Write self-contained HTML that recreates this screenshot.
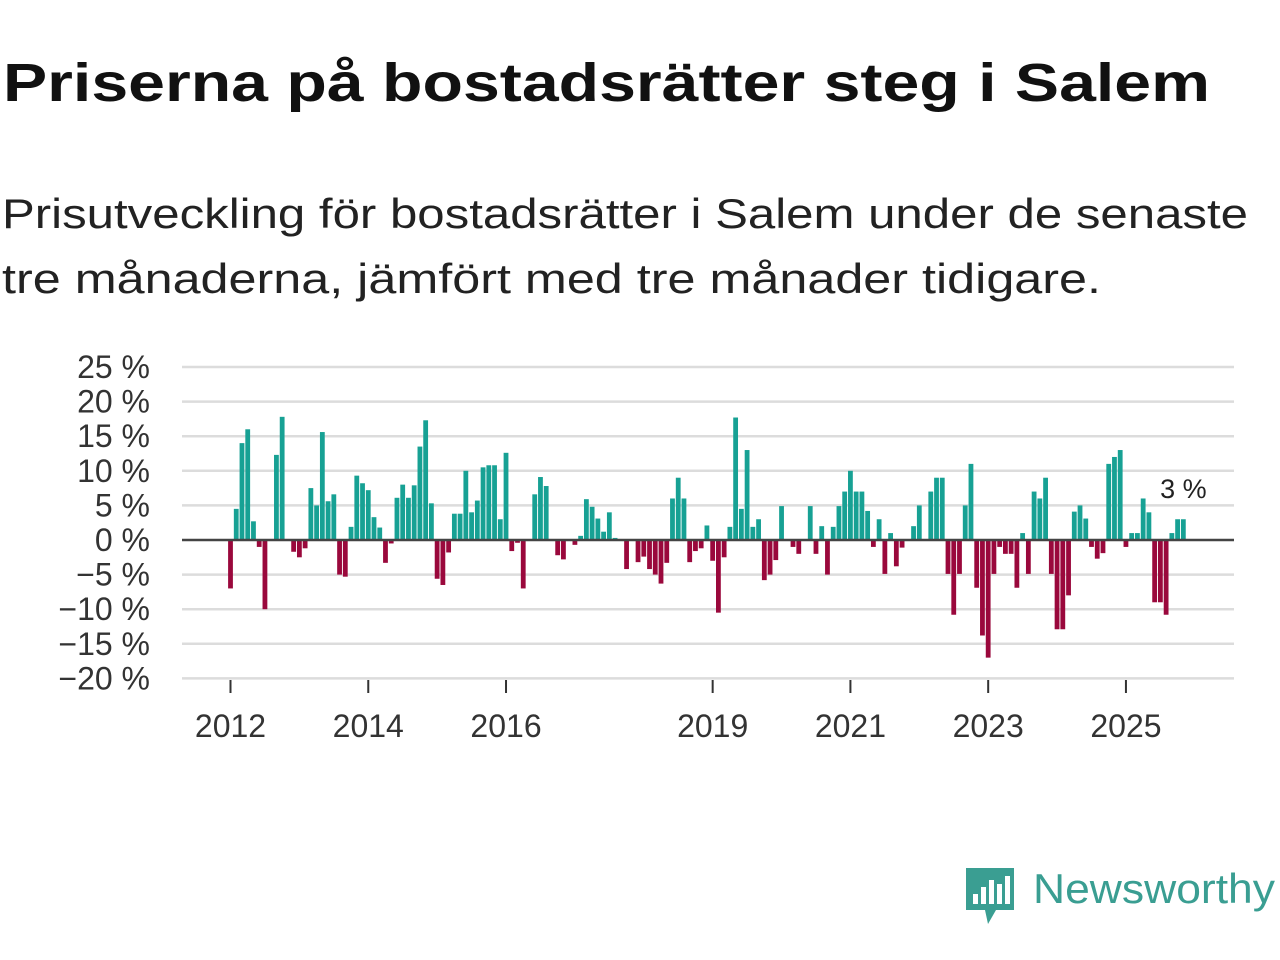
<!DOCTYPE html>
<html><head><meta charset="utf-8"><style>
html,body{margin:0;padding:0;background:#fff;width:1280px;height:960px;overflow:hidden}
svg{display:block}
</style></head><body>
<svg id="chart" width="1280" height="960" xmlns="http://www.w3.org/2000/svg" font-family="'Liberation Sans', sans-serif">
<text x="3" y="101" font-size="54" font-weight="bold" fill="#111" textLength="1207" lengthAdjust="spacingAndGlyphs">Priserna på bostadsrätter steg i Salem</text>
<text x="2" y="228" font-size="42" fill="#222" textLength="1246" lengthAdjust="spacingAndGlyphs">Prisutveckling för bostadsrätter i Salem under de senaste</text>
<text x="2" y="293" font-size="42" fill="#222" textLength="1099" lengthAdjust="spacingAndGlyphs">tre månaderna, jämfört med tre månader tidigare.</text>
<g id="grid"></g><g id="bars"></g><g id="axes"></g>
<g>
<path d="M966 868 h48 v42 h-18 l-8 14 l-3 -14 h-19 z" fill="#3a9e92"/>
<rect x="973" y="894" width="5" height="10" fill="#fff"/><rect x="981" y="887" width="5" height="17" fill="#fff"/><rect x="989" y="880" width="5" height="24" fill="#fff"/><rect x="997" y="884" width="5" height="20" fill="#fff"/><rect x="1005" y="876" width="5" height="28" fill="#fff"/>
<text x="1033" y="903" font-size="42" fill="#3a9e92" textLength="242" lengthAdjust="spacingAndGlyphs">Newsworthy</text>
</g>
</svg>
<script>
const yTicks=[25,20,15,10,5,0,-5,-10,-15,-20];
const yearLabels=["2012","2014","2016","2019","2021","2023","2025"];
const yearMonthIndex=[0,24,48,84,108,132,156];
const values=[-7,4.5,14,16,2.7,-1,-10,0,12.3,17.8,0,-1.7,-2.5,-1.2,7.5,5,15.6,5.6,6.6,-5,-5.3,1.9,9.3,8.2,7.2,3.3,1.8,-3.3,-0.5,6.1,8,6.1,7.9,13.5,17.3,5.3,-5.6,-6.5,-1.8,3.8,3.8,10,4,5.7,10.5,10.8,10.8,3,12.6,-1.6,-0.4,-7,0,6.6,9.1,7.8,0,-2.2,-2.8,0,-0.7,0.6,5.9,4.8,3.1,1.2,4,0.3,0,-4.2,0,-3.2,-2.4,-4.2,-5,-6.3,-3.3,6,9,6,-3.2,-1.6,-1.2,2.1,-3,-10.5,-2.5,1.9,17.7,4.5,13,1.9,3,-5.8,-5,-2.9,4.9,0,-1,-2,0,4.9,-2,2,-5,1.9,4.9,7,10,7,7,4.2,-1,3,-4.9,1,-3.8,-1.1,0,2,5,0,7,9,9,-4.9,-10.8,-4.9,5,11,-6.9,-13.8,-17,-4.9,-1,-2,-2,-6.9,1,-4.9,7,6,9,-4.9,-12.9,-12.9,-8,4.1,5,3.1,-1,-2.7,-1.9,11,12,13,-1,1,1,6,4,-9,-9,-10.8,1,3,3];
const lastLabel="3 %";
const NS="http://www.w3.org/2000/svg";
const x=i=>230.5+i*5.74;
const y=v=>540-v*6.92;
function mk(tag,attrs,parent){const e=document.createElementNS(NS,tag);for(const k in attrs)e.setAttribute(k,attrs[k]);parent.appendChild(e);return e;}
const grid=document.getElementById('grid'),bars=document.getElementById('bars'),axes=document.getElementById('axes');
yTicks.forEach(t=>{
 if(t!==0){const l=mk('line',{x1:182,x2:1234,y1:y(t),y2:y(t),stroke:'#dcdcdc','stroke-width':2.5},grid);
 
 }
 const tx=mk('text',{x:150,y:y(t)+11,'text-anchor':'end','font-size':32,fill:'#333'},axes);
 tx.textContent=(t<0?'\u2212'+(-t):t)+' %';
 
 
});
values.forEach((v,i)=>{
 if(v===0)return;
 const r=mk('rect',{x:x(i)-2.4,width:4.8,y:Math.min(y(v),540),height:Math.abs(y(v)-540),fill:v>0?'#17a194':'#9a083c'},bars);
 
 
});
const zl=mk('line',{x1:182,x2:1234,y1:540,y2:540,stroke:'#444','stroke-width':2.5},axes);


yearLabels.forEach((lab,k)=>{
 const xx=x(yearMonthIndex[k]);
 const tk=mk('line',{x1:xx,x2:xx,y1:680,y2:693,stroke:'#333','stroke-width':2},axes);
 
 
 const tx=mk('text',{x:xx,y:737,'text-anchor':'middle','font-size':32,fill:'#333'},axes);
 tx.textContent=lab;
 
 
});
const li=values.length-1;
const lb=mk('text',{x:x(li),y:498,'text-anchor':'middle','font-size':27,fill:'#222',stroke:'#fff','stroke-width':6,'paint-order':'stroke'},axes);
lb.textContent=lastLabel;


</script>
</body></html>
